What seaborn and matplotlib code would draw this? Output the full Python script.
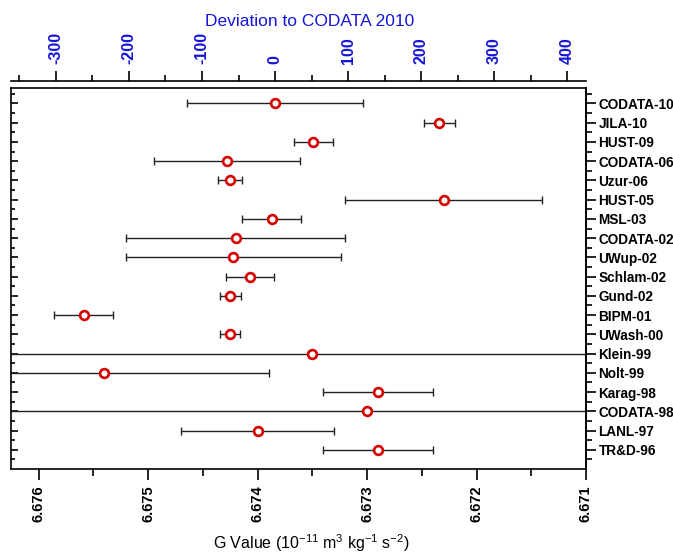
import matplotlib
matplotlib.use("Agg")
import numpy as np
import pandas as pd
import seaborn as sns
import matplotlib.pyplot as plt
from matplotlib.ticker import FixedLocator, FixedFormatter

# ---------------- data ----------------
labels = ["CODATA-10", "JILA-10", "HUST-09", "CODATA-06", "Uzur-06", "HUST-05",
          "MSL-03", "CODATA-02", "UWup-02", "Schlam-02", "Gund-02", "BIPM-01",
          "UWash-00", "Klein-99", "Nolt-99", "Karag-98", "CODATA-98", "LANL-97",
          "TR&D-96"]
g_values = [6.67384, 6.67234, 6.67349, 6.67428, 6.67425, 6.6723,
            6.67387, 6.6742, 6.67422, 6.67407, 6.67425, 6.67559,
            6.674255, 6.6735, 6.6754, 6.6729, 6.673, 6.6740,
            6.6729]
g_errors = [0.00080, 0.00014, 0.00018, 0.00067, 0.00011, 0.0009,
            0.00027, 0.0010, 0.00098, 0.00022, 0.000095, 0.00027,
            0.000092, 0.0030, 0.0015, 0.0005, 0.010, 0.0007,
            0.0005]
codata_2010 = 6.67384
g_ticks = [6.676, 6.675, 6.674, 6.673, 6.672, 6.671]
ppm_ticks = [-300, -200, -100, 0, 100, 200, 300, 400]

# ---------------- style ----------------
sns.set_theme(style="ticks")
plt.rcParams["font.family"] = ["Liberation Sans", "DejaVu Sans"]
plt.rcParams["mathtext.fontset"] = "custom"
plt.rcParams["mathtext.rm"] = "Liberation Sans"
plt.rcParams["mathtext.it"] = "Liberation Sans:italic"
plt.rcParams["text.color"] = "black"
plt.rcParams["axes.edgecolor"] = "black"
plt.rcParams["xtick.color"] = "black"
plt.rcParams["ytick.color"] = "black"

BLUE = "#1515d8"
RED = "#d60000"

df = pd.DataFrame({"label": labels, "G": g_values, "err": g_errors})
df["pos"] = np.arange(len(df))

fig = plt.figure(figsize=(6.73, 5.54), dpi=100)
ax = fig.add_axes([0.0159, 0.1534, 0.8548, 0.6876])

ax.errorbar(df["G"], df["pos"], xerr=df["err"], fmt="none", ecolor="#222222",
            elinewidth=1.0, capsize=3.2, capthick=1.0, zorder=2)
sns.scatterplot(data=df, x="G", y="pos", marker="o", s=40, color="white",
                edgecolor=RED, linewidth=1.9, zorder=3, ax=ax, legend=False)

ax.set_xlim(6.676255, 6.671)
ax.set_ylim(19.0, -0.8)
ax.set_xlabel("")
ax.set_ylabel("")

for sp in ax.spines.values():
    sp.set_linewidth(1.2)
    sp.set_color("black")

# bottom axis
ax.set_xticks(g_ticks, labels=[f"{v:.3f}" for v in g_ticks],
              fontweight="bold", rotation=90, fontsize=10.5)
ax.xaxis.set_minor_locator(FixedLocator(np.array(g_ticks[:-1]) - 0.0005))
ax.tick_params(axis="x", which="major", direction="out", length=8, width=1.2,
               pad=4, top=False, bottom=True)
ax.tick_params(axis="x", which="minor", direction="out", length=5, width=1.2,
               top=False, bottom=True)

# left axis (ticks only)
ax.set_yticks(df["pos"], labels=[])
ax.yaxis.set_minor_locator(FixedLocator(np.arange(-0.5, len(df), 1.0)))
ax.tick_params(axis="y", which="major", direction="in", length=5, width=1.2,
               left=True, right=False, labelleft=False)
ax.tick_params(axis="y", which="minor", direction="in", length=3, width=1.2,
               left=True, right=False)

# right axis with labels
sec_y = ax.secondary_yaxis("right")
sec_y.set_yticks(df["pos"], labels=df["label"])
sec_y.yaxis.set_minor_locator(FixedLocator(np.arange(-0.5, len(df), 1.0)))
sec_y.tick_params(axis="y", which="major", direction="out", length=7, width=1.2,
                  pad=2)
sec_y.tick_params(axis="y", which="minor", direction="out", length=4, width=1.2)
sec_y.spines["right"].set_linewidth(1.2)
for t in sec_y.get_yticklabels():
    t.set_fontweight("bold")
    t.set_fontsize(9.8)


# top axis: deviation in ppm
def g2ppm(g):
    return (codata_2010 - np.asarray(g)) / codata_2010 * 1e6


def ppm2g(p):
    return codata_2010 - np.asarray(p) * codata_2010 / 1e6


sec_x = ax.secondary_xaxis("top", functions=(g2ppm, ppm2g))
sec_x.xaxis.set_major_locator(FixedLocator(ppm_ticks))
sec_x.xaxis.set_major_formatter(FixedFormatter([str(v) for v in ppm_ticks]))
sec_x.xaxis.set_minor_locator(FixedLocator(np.array(ppm_ticks) - 50))
sec_x.tick_params(axis="x", which="major", direction="out", length=7, width=1.2,
                  pad=5, labelcolor=BLUE, labelrotation=90)
sec_x.tick_params(axis="x", which="minor", direction="out", length=4, width=1.2)
sec_x.spines["top"].set_position(("outward", 5))
sec_x.spines["top"].set_linewidth(1.2)
for t in sec_x.get_xticklabels():
    t.set_fontweight("bold")
    t.set_color(BLUE)
    t.set_fontsize(11.5)

fig.text(310 / 673, 1 - 21 / 554, "Deviation to CODATA 2010", color=BLUE,
         fontsize=12.5, ha="center", va="center")
fig.text(311 / 673, 1 - 543 / 554,
         r"G Value (10$^{-11}$ m$^{3}$ kg$^{-1}$ s$^{-2}$)",
         fontsize=11.5, ha="center", va="center")

fig.savefig("out.png", dpi=100)
